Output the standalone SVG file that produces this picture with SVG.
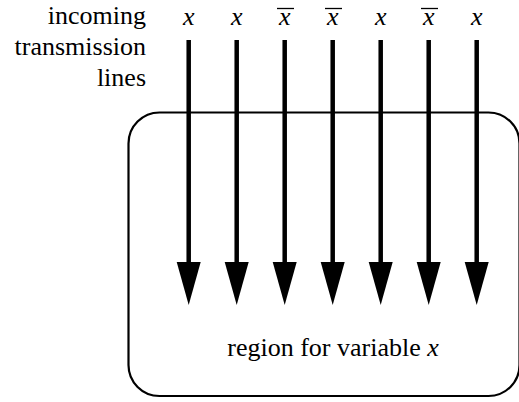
<svg xmlns="http://www.w3.org/2000/svg" width="519" height="402" viewBox="0 0 519 402">
  <style>
    text { font-family: "Liberation Serif", "Times New Roman", Times, serif; font-size: 26px; fill: #000; }
    .var { font-style: italic; text-anchor: middle; }
    .wire { stroke: #000; stroke-width: 4.5; }
    .bar { stroke: #000; stroke-width: 1.3; }
  </style>
  <defs>
    <!-- solid arrowhead, tip pointing down, origin at the middle of its base -->
    <path id="head" d="M-12,0 L12,0 L0,43 Z" fill="#000"/>
  </defs>

  <g id="caption">
    <text x="146" y="24" text-anchor="end">incoming</text>
    <text x="146" y="55" text-anchor="end">transmission</text>
    <text x="146" y="86" text-anchor="end">lines</text>
  </g>

  <g id="region">
    <rect x="128.5" y="112.5" width="391" height="283.5" rx="31" ry="31" fill="none" stroke="#000" stroke-width="2.2"/>
    <text x="333" y="356" text-anchor="middle">region for variable <tspan font-style="italic">x</tspan></text>
  </g>

  <g id="labels">
    <text class="var" x="188.7" y="25">x</text>
    <text class="var" x="236.7" y="25">x</text>
    <text class="var" x="284.7" y="25">x</text>
    <line class="bar" x1="277" y1="8.5" x2="294" y2="8.5"/>
    <text class="var" x="332.7" y="25">x</text>
    <line class="bar" x1="325" y1="8.5" x2="342" y2="8.5"/>
    <text class="var" x="380.7" y="25">x</text>
    <text class="var" x="428.7" y="25">x</text>
    <line class="bar" x1="421" y1="8.5" x2="438" y2="8.5"/>
    <text class="var" x="476.7" y="25">x</text>
  </g>

  <g id="connectors">
    <line class="wire" x1="188.7" y1="40" x2="188.7" y2="264"/>
    <use href="#head" x="188.7" y="262"/>
    <line class="wire" x1="236.7" y1="40" x2="236.7" y2="264"/>
    <use href="#head" x="236.7" y="262"/>
    <line class="wire" x1="284.7" y1="40" x2="284.7" y2="264"/>
    <use href="#head" x="284.7" y="262"/>
    <line class="wire" x1="332.7" y1="40" x2="332.7" y2="264"/>
    <use href="#head" x="332.7" y="262"/>
    <line class="wire" x1="380.7" y1="40" x2="380.7" y2="264"/>
    <use href="#head" x="380.7" y="262"/>
    <line class="wire" x1="428.7" y1="40" x2="428.7" y2="264"/>
    <use href="#head" x="428.7" y="262"/>
    <line class="wire" x1="476.7" y1="40" x2="476.7" y2="264"/>
    <use href="#head" x="476.7" y="262"/>
  </g>
</svg>
